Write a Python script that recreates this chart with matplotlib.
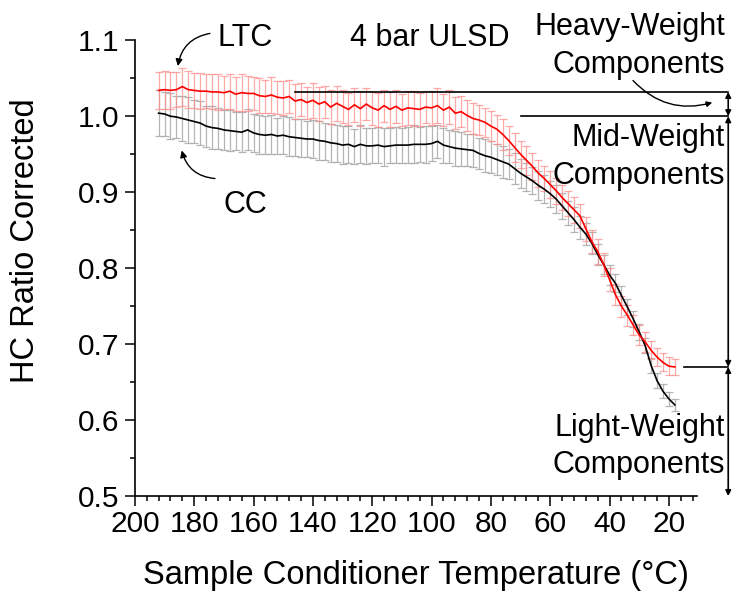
import numpy as np
import matplotlib
matplotlib.use("Agg")
from matplotlib import pyplot as plt
from matplotlib.ticker import MultipleLocator, FormatStrFormatter

matplotlib.rcParams['font.family'] = ['Liberation Sans', 'DejaVu Sans']
matplotlib.rcParams['font.size'] = 22

########################################################
# Data (HC ratio vs conditioner temperature)
########################################################
temp = [192, 190, 188, 186, 184, 182, 180, 178, 176, 174,
        172, 170, 168, 166, 164, 162, 160, 158, 156, 154,
        152, 150, 148, 146, 144, 142, 140, 138, 136, 134,
        132, 130, 128, 126, 124, 122, 120, 118, 116, 114,
        112, 110, 108, 106, 104, 102, 100, 98, 96, 94,
        92, 90, 88, 86, 84, 82, 80, 78, 76, 74,
        72, 70, 68, 66, 64, 62, 60, 58, 56, 54,
        52, 50, 48, 46, 44, 42, 40, 38, 36, 34,
        32, 30, 28, 26, 24, 22, 20, 18]

ltc = [1.034, 1.035, 1.034, 1.035, 1.039, 1.035, 1.034, 1.033, 1.033, 1.032,
       1.032, 1.031, 1.033, 1.029, 1.031, 1.030, 1.030, 1.027, 1.026, 1.028,
       1.025, 1.024, 1.026, 1.020, 1.022, 1.018, 1.021, 1.016, 1.019, 1.012,
       1.017, 1.013, 1.009, 1.015, 1.010, 1.016, 1.011, 1.008, 1.014, 1.009,
       1.013, 1.008, 1.011, 1.010, 1.009, 1.012, 1.011, 1.014, 1.008, 1.012,
       1.004, 1.006, 1.001, 0.997, 0.995, 0.992, 0.987, 0.983, 0.976, 0.968,
       0.959, 0.950, 0.942, 0.934, 0.925, 0.918, 0.910, 0.902, 0.893, 0.885,
       0.877, 0.869, 0.852, 0.835, 0.822, 0.805, 0.785, 0.765, 0.750, 0.738,
       0.725, 0.712, 0.703, 0.692, 0.683, 0.676, 0.671, 0.670]

ltc_err = [0.024, 0.025, 0.024, 0.023, 0.025, 0.024, 0.023, 0.024, 0.022, 0.023,
           0.024, 0.022, 0.023, 0.022, 0.024, 0.023, 0.022, 0.023, 0.022, 0.024,
           0.022, 0.023, 0.022, 0.023, 0.022, 0.021, 0.023, 0.022, 0.021, 0.022,
           0.023, 0.022, 0.021, 0.022, 0.023, 0.021, 0.022, 0.022, 0.021, 0.023,
           0.022, 0.021, 0.022, 0.023, 0.022, 0.021, 0.022, 0.023, 0.021, 0.022,
           0.021, 0.020, 0.021, 0.020, 0.020, 0.019, 0.020, 0.019, 0.020, 0.019,
           0.019, 0.018, 0.019, 0.018, 0.018, 0.017, 0.018, 0.017, 0.017, 0.016,
           0.017, 0.016, 0.016, 0.015, 0.016, 0.015, 0.015, 0.014, 0.014, 0.014,
           0.013, 0.013, 0.013, 0.012, 0.012, 0.012, 0.012, 0.011]

cc = [1.004, 1.003, 1.000, 0.999, 0.997, 0.995, 0.993, 0.991, 0.987, 0.985,
      0.984, 0.982, 0.981, 0.980, 0.979, 0.982, 0.978, 0.976, 0.975, 0.976,
      0.974, 0.975, 0.973, 0.972, 0.971, 0.970, 0.970, 0.968, 0.967, 0.965,
      0.964, 0.962, 0.963, 0.960, 0.963, 0.961, 0.961, 0.962, 0.960, 0.961,
      0.962, 0.962, 0.962, 0.963, 0.963, 0.963, 0.964, 0.967, 0.962, 0.960,
      0.958, 0.957, 0.956, 0.955, 0.951, 0.948, 0.946, 0.943, 0.940, 0.937,
      0.931, 0.925, 0.920, 0.915, 0.909, 0.904, 0.898, 0.891, 0.882, 0.873,
      0.864, 0.854, 0.845, 0.833, 0.818, 0.805, 0.791, 0.780, 0.764, 0.749,
      0.733, 0.716, 0.698, 0.672, 0.652, 0.638, 0.628, 0.620]

cc_err = [0.030, 0.029, 0.030, 0.028, 0.029, 0.030, 0.028, 0.029, 0.027, 0.028,
          0.027, 0.026, 0.027, 0.025, 0.026, 0.027, 0.025, 0.026, 0.025, 0.026,
          0.024, 0.025, 0.026, 0.024, 0.025, 0.024, 0.025, 0.026, 0.024, 0.025,
          0.024, 0.025, 0.024, 0.023, 0.025, 0.024, 0.023, 0.024, 0.025, 0.023,
          0.024, 0.023, 0.024, 0.025, 0.023, 0.024, 0.023, 0.022, 0.023, 0.022,
          0.023, 0.022, 0.021, 0.022, 0.021, 0.022, 0.021, 0.020, 0.021, 0.020,
          0.020, 0.019, 0.019, 0.018, 0.019, 0.018, 0.017, 0.018, 0.017, 0.016,
          0.016, 0.015, 0.015, 0.014, 0.014, 0.013, 0.013, 0.012, 0.012, 0.011,
          0.011, 0.011, 0.010, 0.010, 0.010, 0.009, 0.009, 0.008]

# component boundaries (HC ratio levels)
heavy_level = 1.032
mid_level = 1.0
light_level = 0.67
base_level = 0.5

########################################################
# Plot
########################################################
fig = plt.figure(figsize=(7.33, 5.92), dpi=100)
ax = fig.add_axes([0.184, 0.162, 0.767, 0.770])

ax.errorbar(temp, cc, yerr=cc_err, fmt='none', ecolor='#a8a8a8', elinewidth=0.9,
            capsize=3, capthick=0.9, alpha=0.85, zorder=1)
ax.errorbar(temp, ltc, yerr=ltc_err, fmt='none', ecolor='#ff8c8c', elinewidth=0.9,
            capsize=3, capthick=0.9, alpha=0.75, zorder=2)
ax.plot(temp, cc, color='black', lw=1.2, zorder=3)
ax.plot(temp, ltc, color='red', lw=1.2, zorder=4)

ax.set_xlim(200, 10.5)
ax.set_ylim(0.5, 1.1)
ax.xaxis.set_minor_locator(MultipleLocator(4))
ax.yaxis.set_major_locator(MultipleLocator(0.1))
ax.yaxis.set_minor_locator(MultipleLocator(0.05))
ax.yaxis.set_major_formatter(FormatStrFormatter('%.1f'))
ax.set_xticks([200, 180, 160, 140, 120, 100, 80, 60, 40, 20])
ax.spines['top'].set_visible(False)
ax.spines['right'].set_visible(False)
ax.spines['left'].set_linewidth(1.2)
ax.spines['bottom'].set_linewidth(1.2)
ax.tick_params(which='major', direction='out', length=7, width=1.1, labelsize=21.5)
ax.tick_params(which='minor', direction='out', length=3.5, width=1.1)
ax.tick_params(axis='y', pad=4)
ax.tick_params(axis='x', pad=3)

ax.set_xlabel("Sample Conditioner Temperature (\u00b0C)", fontsize=23.5, labelpad=15.5)
ax.set_ylabel("HC Ratio Corrected", fontsize=23.5)
# label sits a little above the axis centre in the original
ax.yaxis.set_label_coords(-0.167, 0.561)

# labels for the two curves
ax.text(162.9, 1.1026, "LTC", ha='center', va='center')
ax.text(162.9, 0.883, "CC", ha='center', va='center')
ax.text(100.5, 1.1026, "4 bar ULSD", ha='center', va='center')
arrow = dict(arrowstyle='-|>', color='black', lw=1.0, mutation_scale=10,
             shrinkA=0, shrinkB=0)
ax.annotate("", xy=(185.5, 1.066), xytext=(174.7, 1.109),
            arrowprops=dict(arrow, connectionstyle='arc3,rad=0.35'))
ax.annotate("", xy=(184.2, 0.955), xytext=(173.0, 0.918),
            arrowprops=dict(arrow, connectionstyle='arc3,rad=-0.35'))

# component brackets on the right
ax.plot([146, 0], [heavy_level, heavy_level], color='black', lw=1.2, clip_on=False)
ax.plot([70, 0], [mid_level, mid_level], color='black', lw=1.2, clip_on=False)
ax.plot([15, 0], [light_level, light_level], color='black', lw=1.2, clip_on=False)
bracket = dict(arrowstyle='<|-|>', color='black', lw=1.2, mutation_scale=8,
               shrinkA=0, shrinkB=0)
for top, bot in [(heavy_level, mid_level), (mid_level, light_level),
                 (light_level, base_level)]:
    ax.annotate("", xy=(0, bot), xytext=(0, top), arrowprops=bracket,
                annotation_clip=False)

ax.text(1.1, 1.117, "Heavy-Weight", ha='right', va='center', clip_on=False)
ax.text(1.1, 1.067, "Components", ha='right', va='center', clip_on=False)
ax.text(1.1, 0.971, "Mid-Weight", ha='right', va='center', clip_on=False)
ax.text(1.1, 0.921, "Components", ha='right', va='center', clip_on=False)
ax.text(1.1, 0.589, "Light-Weight", ha='right', va='center', clip_on=False)
ax.text(1.1, 0.541, "Components", ha='right', va='center', clip_on=False)
ax.annotate("", xy=(5.4, 1.018), xytext=(32.1, 1.047),
            arrowprops=dict(arrow, connectionstyle='arc3,rad=0.3', mutation_scale=8),
            annotation_clip=False)

fig.savefig("out.png", dpi=100)
